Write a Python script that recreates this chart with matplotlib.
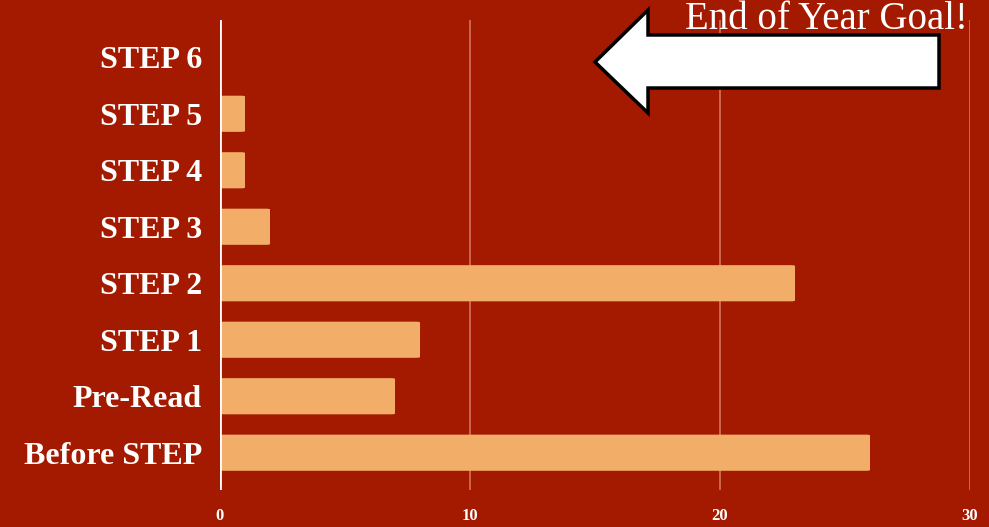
import matplotlib.pyplot as plt
from matplotlib.patches import Polygon, FancyBboxPatch

categories = ['Before STEP', 'Pre-Read', 'STEP 1', 'STEP 2', 'STEP 3', 'STEP 4', 'STEP 5', 'STEP 6']
counts = [26, 7, 8, 23, 2, 1, 1, 0]
x_ticks = [0, 10, 20, 30]

bg = '#A31A00'
bar_color = '#F2AE68'

W, H = 989, 527
fig = plt.figure(figsize=(W / 100, H / 100), dpi=100, facecolor=bg)
ax = fig.add_axes([220 / W, 1 - 490 / H, 750 / W, 470 / H], facecolor=bg)

# bars with slightly rounded corners
for i, v in enumerate(counts):
    if v <= 0:
        continue
    ax.add_patch(FancyBboxPatch((0, i - 0.32), v, 0.64,
                                boxstyle='round,pad=0,rounding_size=0.15',
                                mutation_aspect=0.09,
                                facecolor=bar_color, edgecolor='none', zorder=2))

ax.set_xlim(0, 30)
ax.set_ylim(-0.66, 7.66)
ax.set_xticks(x_ticks)
ax.set_yticks(range(len(categories)))
ax.set_yticklabels(categories)

for x in x_ticks[1:]:
    ax.axvline(x, color='#E08A70', lw=1.2, alpha=0.8, zorder=1)
ax.axvline(0, color='white', lw=2, zorder=3)

for s in ax.spines.values():
    s.set_visible(False)
ax.tick_params(length=0)
for lab in ax.get_yticklabels():
    lab.set_fontfamily('Liberation Serif')
    lab.set_fontweight('bold')
    lab.set_fontsize(23)
    lab.set_color('white')
ax.tick_params(axis='y', pad=13)
ax.tick_params(axis='x', pad=13)
for lab in ax.get_xticklabels():
    lab.set_fontfamily('Liberation Serif')
    lab.set_fontweight('bold')
    lab.set_fontsize(12)
    lab.set_color('white')

# arrow decoration pointing back to the goal
pts = [(595, 62), (648, 10), (648, 35), (939, 35), (939, 88), (648, 88), (648, 113)]
arrow = Polygon([(x / W, 1 - y / H) for x, y in pts], closed=True,
                transform=fig.transFigure, facecolor='white', edgecolor='black',
                lw=2.5, joinstyle='miter', zorder=5)
fig.patches.append(arrow)

fig.text(968 / W, 1 - 29 / H, 'End of Year Goal!', ha='right', va='baseline',
         color='white', fontsize=28, fontfamily='Liberation Serif')

fig.savefig('out.png', dpi=100, facecolor=bg)
